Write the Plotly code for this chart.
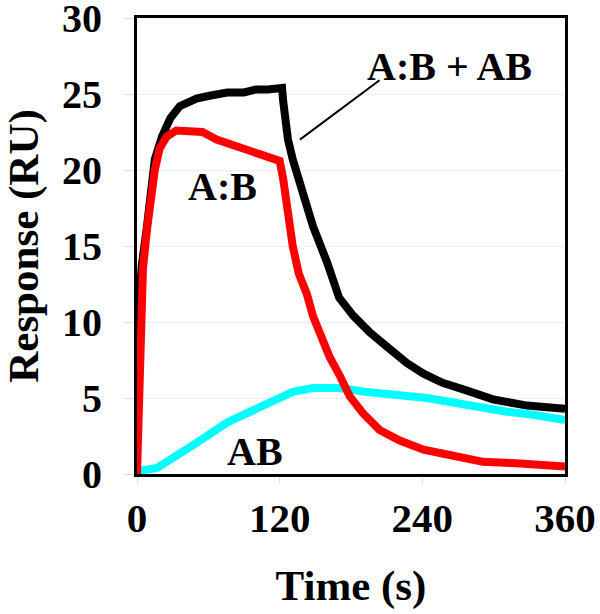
import plotly.graph_objects as go

# Time (s) and response (RU)
t_total = [0, 2, 4, 8.4, 12.6, 15, 21, 28, 36, 50, 62, 76, 90, 100, 110, 122,
           123, 124.5, 127, 131, 135, 140, 148, 160, 170, 182, 196, 213, 227,
           241, 257, 277, 300, 328, 360]
y_total = [8.8, 11.5, 13.7, 16.3, 18.9, 20.7, 22.2, 23.4, 24.2, 24.7, 24.9, 25.1,
           25.1, 25.3, 25.3, 25.4, 24.5, 23.4, 22.0, 20.7, 19.6, 18.7, 16.3, 13.9,
           11.6, 10.4, 9.3, 8.2, 7.3, 6.6, 6.0, 5.5, 4.9, 4.5, 4.3]

t_complex = [0, 2.5, 5, 8.4, 11, 15, 19, 25, 33, 42, 55, 67, 81, 95, 109, 120,
             123, 126, 131, 136, 143, 148, 154, 162, 171, 179, 190, 204, 221, 241,
             263, 291, 319, 360]
y_complex = [0, 9.0, 13.5, 16.1, 17.9, 20.0, 21.4, 22.2, 22.6, 22.6, 22.5, 22.0,
             21.6, 21.2, 20.8, 20.6, 19.4, 17.6, 15.0, 13.2, 11.8, 10.4, 9.3, 7.7,
             6.4, 5.1, 4.0, 2.9, 2.2, 1.6, 1.25, 0.8, 0.7, 0.5]

t_ab = [2.5, 5, 17, 30, 53, 76, 98, 118, 131, 148, 171, 193, 221, 244, 266, 288,
        311, 333, 360]
y_ab = [0.1, 0.25, 0.4, 1.1, 2.2, 3.4, 4.2, 5.0, 5.4, 5.65, 5.65, 5.4, 5.2, 5.0,
        4.7, 4.35, 4.1, 3.9, 3.55]

x_ticks = [0, 120, 240, 360]
y_ticks = [0, 5, 10, 15, 20, 25, 30]

FONT = "Liberation Serif, Times New Roman, serif"

fig = go.Figure()
fig.add_trace(go.Scatter(x=t_total, y=y_total, mode="lines", name="A:B + AB",
                         line=dict(color="black", width=8)))
fig.add_trace(go.Scatter(x=t_ab, y=y_ab, mode="lines", name="AB",
                         line=dict(color="#00FFFF", width=8)))
fig.add_trace(go.Scatter(x=t_complex, y=y_complex, mode="lines", name="A:B",
                         line=dict(color="#FF0000", width=8)))

ann_font = dict(family=FONT, size=40, color="black", weight="bold")
fig.add_annotation(x=263, y=26.8, xref="x", yref="y", text="A:B + AB",
                   showarrow=False, font=ann_font)
fig.add_annotation(x=72, y=18.9, xref="x", yref="y", text="A:B",
                   showarrow=False, font=ann_font)
fig.add_annotation(x=99, y=1.45, xref="x", yref="y", text="AB",
                   showarrow=False, font=ann_font)
fig.add_shape(type="line", xref="x", yref="y", x0=204, y0=25.9, x1=137, y1=22.0,
              line=dict(color="black", width=2))

fig.update_layout(
    width=600, height=614,
    margin=dict(l=137, r=35, t=18, b=140, autoexpand=False),
    paper_bgcolor="white", plot_bgcolor="white",
    showlegend=False,
    font=dict(family=FONT, size=40, color="black", weight="bold"),
)
fig.update_xaxes(
    range=[0, 360], tickvals=x_ticks, ticktext=[str(v) for v in x_ticks],
    showgrid=False, zeroline=False, automargin=False,
    showline=True, linecolor="black", linewidth=3, mirror=True,
    ticks="outside", ticklen=6, tickcolor="#dddddd", tickwidth=1,
    ticklabelstandoff=0, ticklabeloverflow="allow",
    tickfont=dict(family=FONT, size=41, color="black", weight="bold"),
    title=dict(text="Time (s)", standoff=30,
               font=dict(family=FONT, size=43, color="black", weight="bold")),
)
fig.update_yaxes(
    range=[0, 30], tickvals=y_ticks, ticktext=[str(v) for v in y_ticks],
    showgrid=True, gridcolor="#eeeeee", gridwidth=1, zeroline=False,
    automargin=False,
    showline=True, linecolor="black", linewidth=3, mirror=True,
    ticks="outside", ticklen=10, tickcolor="#dddddd", tickwidth=1,
    ticklabelstandoff=14, ticklabeloverflow="allow",
    tickfont=dict(family=FONT, size=40, color="black", weight="bold"),
    title=dict(text="Response (RU)", standoff=12,
               font=dict(family=FONT, size=43, color="black", weight="bold")),
)

fig.write_html("out.html", config={"displayModeBar": False},
               post_script="document.body.style.margin='0px';")
